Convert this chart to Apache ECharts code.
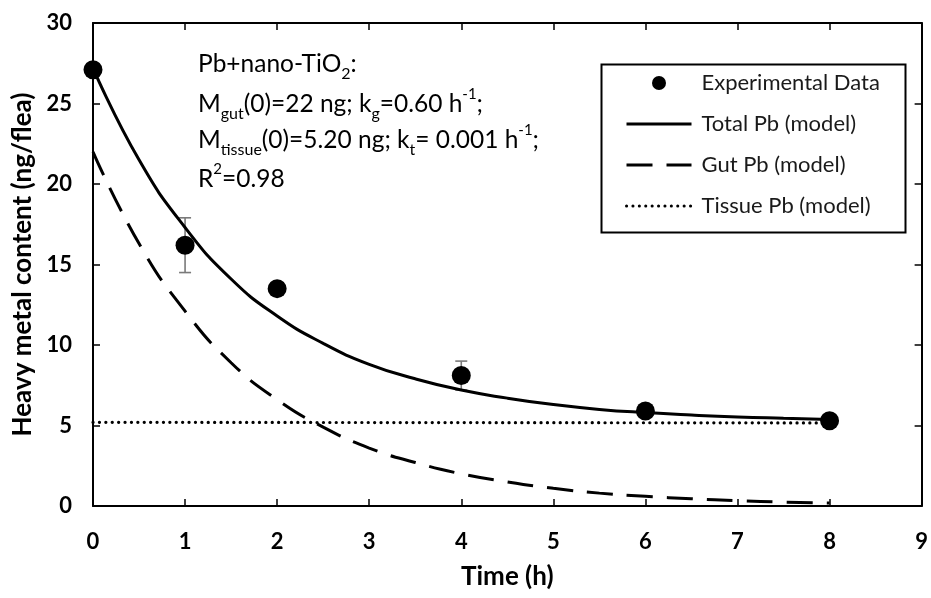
<!DOCTYPE html>
<html><head><meta charset="utf-8">
<script src="https://cdn.jsdelivr.net/npm/echarts@6/dist/echarts.min.js"></script>
<style>html,body{margin:0;padding:0;background:#fff}#c{width:931px;height:598px}</style>
</head><body><div id="c"></div>
<script>
// ---- data ----
const expTimes = [0, 1, 2, 4, 6, 8];
const expValues = [27.1, 16.2, 13.5, 8.1, 5.9, 5.3];
const expErrors = [0.2, 1.7, 0.2, 0.9, 0.3, 0.2];

const modelTimes = [0, 0.5, 1, 1.5, 2, 2.5, 3, 3.5, 4, 4.5, 5, 5.5, 6, 6.5, 7, 7.5, 8];
const totalModel = [27.2, 21.5, 17.3, 14.1, 11.8, 10.1, 8.8, 7.9, 7.2, 6.7, 6.3, 6.0, 5.8, 5.65, 5.53, 5.45, 5.38];
const gutModel   = [22.0, 16.3, 12.1, 8.9, 6.6, 4.9, 3.6, 2.7, 2.0, 1.5, 1.1, 0.8, 0.6, 0.45, 0.33, 0.24, 0.18];
const tissueTimes = [0, 8];
const tissueModel = [5.2, 5.16];

const seriesNames = ['Experimental Data', 'Total Pb (model)', 'Gut Pb (model)', 'Tissue Pb (model)'];
const annotationLines = [
  '{a|Pb+nano-TiO}{s|2}{a|:}',
  '{a|M}{s|gut}{a|(0)=22 ng; k}{s|g}{a|=0.60 h}{p|-1}{a|;}',
  '{a|M}{s|tissue}{a|(0)=5.20 ng; k}{s|t}{a|= 0.001 h}{p|-1}{a|;}',
  '{a|R}{p|2}{a|=0.98}'
];

const FONT = 'Lato';
const pair = (xs, ys) => xs.map((x, i) => [x, ys[i]]);

const chart = echarts.init(document.getElementById('c'), null, {renderer: 'canvas'});

const axisLineStyle = {color: '#000', width: 2};
const tickStyle = {show: true, inside: true, length: 7, lineStyle: {color: '#000', width: 1.5}};

const rich = {
  a: {fontFamily: FONT, fontSize: 24.5, color: '#1a1a1a', lineHeight: 35},
  s: {fontFamily: FONT, fontSize: 16, color: '#1a1a1a', lineHeight: 19, verticalAlign: 'bottom'},
  p: {fontFamily: FONT, fontSize: 15, color: '#1a1a1a', lineHeight: 20, verticalAlign: 'top'}
};
const lineTops = [52, 87, 123, 162];

const option = {
  animation: false,
  backgroundColor: '#fff',
  grid: {left: 93, right: 6, top: 23, bottom: 92},
  xAxis: [{
    type: 'value', min: 0, max: 9, interval: 1, position: 'bottom',
    axisLine: {onZero: false, lineStyle: axisLineStyle}, axisTick: tickStyle, splitLine: {show: false},
    axisLabel: {fontFamily: FONT, fontWeight: 'bold', fontSize: 22, color: '#000', margin: 25},
    name: 'Time (h)', nameLocation: 'middle', nameGap: 58,
    nameTextStyle: {fontFamily: FONT, fontWeight: 'bold', fontSize: 26, color: '#000'}
  }, {
    type: 'value', min: 0, max: 9, interval: 1, position: 'top',
    axisLine: {onZero: false, lineStyle: axisLineStyle}, axisTick: tickStyle, splitLine: {show: false},
    axisLabel: {show: false}
  }],
  yAxis: [{
    type: 'value', min: 0, max: 30, interval: 5, position: 'left',
    axisLine: {show: true, onZero: false, lineStyle: axisLineStyle}, axisTick: tickStyle, splitLine: {show: false},
    axisLabel: {fontFamily: FONT, fontWeight: 'bold', fontSize: 22, color: '#000', margin: 21},
    name: 'Heavy metal content (ng/flea)', nameLocation: 'middle', nameGap: 56,
    nameTextStyle: {fontFamily: FONT, fontWeight: 'bold', fontSize: 26, color: '#000'}
  }, {
    type: 'value', min: 0, max: 30, interval: 5, position: 'right',
    axisLine: {show: true, onZero: false, lineStyle: axisLineStyle}, axisTick: tickStyle, splitLine: {show: false},
    axisLabel: {show: false}
  }],
  legend: {
    data: [
      {name: seriesNames[0]},
      {name: seriesNames[1], itemStyle: {opacity: 0}},
      {name: seriesNames[2], itemStyle: {opacity: 0}},
      {name: seriesNames[3], itemStyle: {opacity: 0}}
    ],
    orient: 'vertical', left: 625, top: 71, padding: 0,
    itemWidth: 65, itemHeight: 14, itemGap: 17,
    lineStyle: {width: 3},
    textStyle: {fontFamily: FONT, fontSize: 22, color: '#1a1a1a', lineHeight: 24, padding: [0, 0, 0, 5]}
  },
  graphic: [{
    type: 'rect', left: 599, top: 62, shape: {width: 304, height: 168},
    style: {fill: 'none', stroke: '#000', lineWidth: 2}, silent: true
  }].concat(annotationLines.map((t, i) => ({
    type: 'text', left: 198, top: lineTops[i], silent: true,
    style: {text: t, rich: rich}
  }))),
  series: [{
    name: 'errors', type: 'custom', xAxisIndex: 0, yAxisIndex: 0, z: 1,
    data: expTimes.map((t, i) => [t, expValues[i], expErrors[i]]),
    renderItem: function (params, api) {
      const x = api.value(0), y = api.value(1), e = api.value(2);
      const top = api.coord([x, y + e]), bot = api.coord([x, y - e]);
      const hw = 6, st = {stroke: '#7a7a7a', lineWidth: 1.6};
      return {type: 'group', children: [
        {type: 'line', shape: {x1: top[0], y1: top[1], x2: bot[0], y2: bot[1]}, style: st},
        {type: 'line', shape: {x1: top[0] - hw, y1: top[1], x2: top[0] + hw, y2: top[1]}, style: st},
        {type: 'line', shape: {x1: bot[0] - hw, y1: bot[1], x2: bot[0] + hw, y2: bot[1]}, style: st}
      ]};
    }
  }, {
    name: seriesNames[1], type: 'line', smooth: true, symbol: 'none', z: 3,
    data: pair(modelTimes, totalModel),
    lineStyle: {color: '#000', width: 3}, itemStyle: {color: '#000'}
  }, {
    name: seriesNames[2], type: 'line', smooth: true, symbol: 'none', z: 3,
    data: pair(modelTimes, gutModel),
    lineStyle: {color: '#000', width: 3, type: [26, 14]}, itemStyle: {color: '#000'}
  }, {
    name: seriesNames[3], type: 'line', symbol: 'none', z: 3,
    data: pair(tissueTimes, tissueModel),
    lineStyle: {color: '#000', width: 3.2, type: [0.1, 6.3], cap: 'round'}, itemStyle: {color: '#000'}
  }, {
    name: seriesNames[0], type: 'scatter', symbol: 'circle', symbolSize: 19, z: 4,
    data: pair(expTimes, expValues),
    itemStyle: {color: '#000', opacity: 1}
  }]
};
chart.setOption(option);
</script>
</body></html>
